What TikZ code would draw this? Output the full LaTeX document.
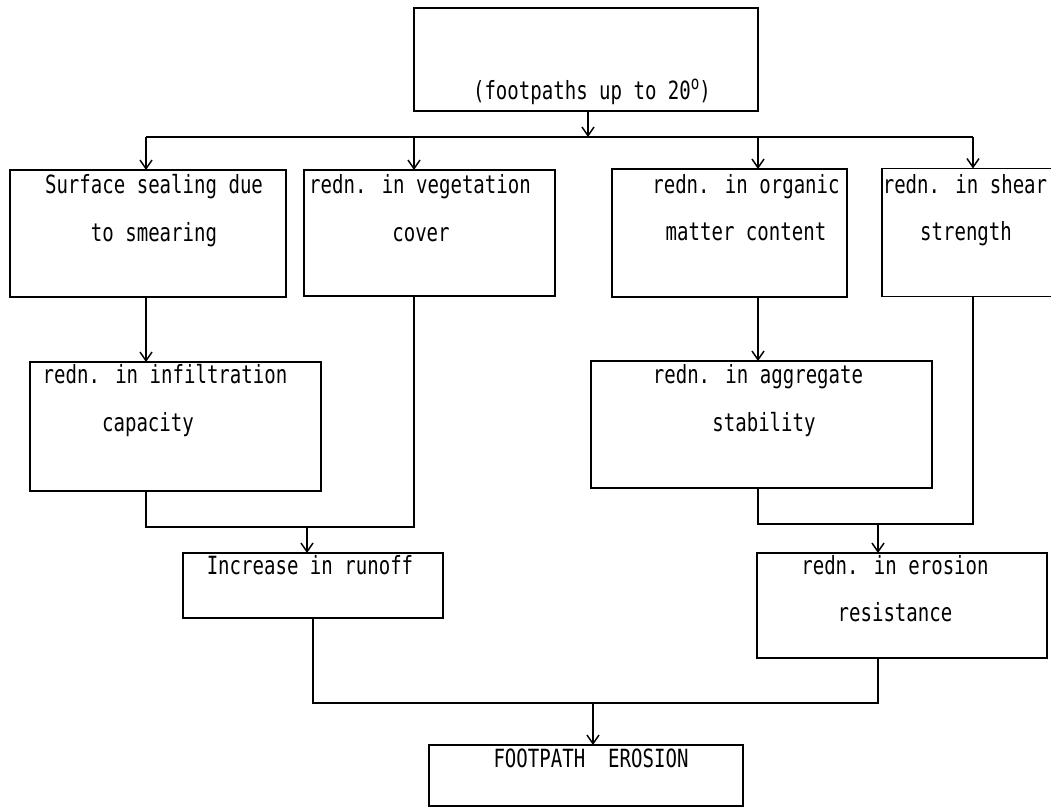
\documentclass[tikz,border=0pt]{standalone}
\usepackage{fontspec}
\setmainfont{DejaVu Sans Mono}[FakeStretch=0.76]
\usetikzlibrary{arrows.meta}
\begin{document}
\begin{tikzpicture}[x=0.75pt,y=-0.75pt,
  line width=1.2pt,
  box/.style={draw, rectangle, inner sep=0pt, outer sep=0pt},
  lbl/.style={anchor=base, inner sep=0pt, font=\fontsize{18.8pt}{20pt}\selectfont},
  arr/.style={-{Straight Barb[length=6.5pt,width=9pt,line width=1.1pt]}}]
\useasboundingbox (0,0) rectangle (1051,809);
\clip (0,0) rectangle (1051,809);
% boxes
\node[box, minimum width=344*0.75pt, minimum height=103*0.75pt] (top) at (586,59.5) {};
\node[box, minimum width=276*0.75pt, minimum height=127*0.75pt] (surf) at (148,233.5) {};
\node[box, minimum width=251*0.75pt, minimum height=126*0.75pt] (veg) at (429.5,233) {};
\node[box, minimum width=235*0.75pt, minimum height=128*0.75pt] (org) at (729.5,233) {};
\node[box, minimum width=178*0.75pt, minimum height=128*0.75pt] (shear) at (971,232.5) {};
\node[box, minimum width=291*0.75pt, minimum height=129*0.75pt] (infil) at (175.5,426.5) {};
\node[box, minimum width=341*0.75pt, minimum height=127*0.75pt] (agg) at (761.5,424.5) {};
\node[box, minimum width=260*0.75pt, minimum height=65*0.75pt] (runoff) at (313,585.5) {};
\node[box, minimum width=290*0.75pt, minimum height=105*0.75pt] (eros) at (902,605.5) {};
\node[box, minimum width=314*0.75pt, minimum height=61*0.75pt] (foot) at (586,775.5) {};
% texts
\node[lbl] (t1) at (592,100) {(footpaths up to 20\raisebox{0.75ex}{\fontsize{14pt}{14pt}\selectfont o})};
\node[lbl] (t2) at (154,194) {Surface sealing due};
\node[lbl] (t3) at (154,242) {to smearing};
\node[lbl] (t4) at (420,194) {redn. in vegetation};
\node[lbl] (t5) at (421,242) {cover};
\node[lbl] (t6) at (746,194) {redn. in organic};
\node[lbl] (t7) at (746,241) {matter content};
\node[lbl] (t8) at (965,194) {redn. in shear};
\node[lbl] (t9) at (966,241) {strength};
\node[lbl] (t10) at (165,384) {redn. in infiltration};
\node[lbl] (t11) at (148,432) {capacity};
\node[lbl] (t12) at (758,384) {redn. in aggregate};
\node[lbl] (t13) at (764,432) {stability};
\node[lbl] (t14) at (310,575) {Increase in runoff};
\node[lbl] (t15) at (895,575) {redn. in erosion};
\node[lbl] (t16) at (895,622) {resistance};
\node[lbl] (t17) at (591,767) {FOOTPATH\ \ EROSION};
% junction coordinates
\coordinate (b0) at (588,137);
\coordinate (bs) at (146,137);
\coordinate (bv) at (414,137);
\coordinate (bo) at (758,137);
\coordinate (bh) at (973,137);
\coordinate (jl) at (307,527);
\coordinate (jr) at (878,524);
\coordinate (jb) at (593,703);
% connectors
\draw[arr] (top.south -| b0) -- (b0);
\draw (bs) -- (bh);
\draw[arr] (bs) -- (bs |- surf.north);
\draw[arr] (bv) -- (bv |- veg.north);
\draw[arr] (bo) -- (bo |- org.north);
\draw[arr] (bh) -- (bh |- shear.north);
\draw[arr] (surf.south -| bs) -- (bs |- infil.north);
\draw[arr] (org.south -| bo) -- (bo |- agg.north);
\draw (infil.south -| bs) -- (bs |- jl) -- (bv |- jl) -- (veg.south -| bv);
\draw[arr] (jl) -- (jl |- runoff.north);
\draw (agg.south -| bo) -- (bo |- jr) -- (bh |- jr) -- (shear.south -| bh);
\draw[arr] (jr) -- (jr |- eros.north);
\draw (runoff.south) -- (runoff.south |- jb) -- (jr |- jb) -- (eros.south -| jr);
\draw[arr] (jb) -- (jb |- foot.north);
\end{tikzpicture}
\end{document}
